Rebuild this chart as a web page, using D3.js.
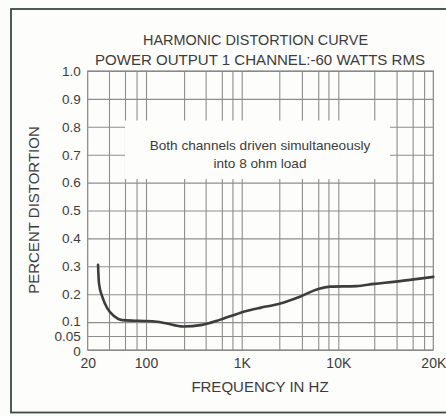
<!DOCTYPE html>
<html>
<head>
<meta charset="utf-8">
<script src="https://cdn.jsdelivr.net/npm/d3@7"></script>
<style>
  html, body { margin: 0; padding: 0; background: #fcfcfa; }
  svg { display: block; }
  text { font-family: "Liberation Sans", Arial, sans-serif; fill: #3c3c3c; }
</style>
</head>
<body>
<svg id="chart" width="446" height="416"></svg>
<script>
// Harmonic distortion (%) versus frequency, 60 W RMS per channel
const freqHz = [26.6, 27.3, 29.9, 34.4, 41.3, 52, 74, 95, 130, 155, 245, 385, 590, 960,
                1550, 2400, 4000, 6200, 8200, 11400, 13000, 15200, 17600, 20000];
const distortionPct = [0.305, 0.239, 0.191, 0.149, 0.122, 0.107, 0.105, 0.104, 0.101, 0.097,
                       0.084, 0.090, 0.108, 0.133, 0.151, 0.165, 0.191, 0.219, 0.227, 0.229,
                       0.237, 0.245, 0.254, 0.262];

// Axis labelling
const xTickValues = [20, 100, 1000, 10000, 20000];
const xTickLabels = ["20", "100", "1K", "10K", "20K"];
const yTickValues = [0, 0.05, 0.1, 0.2, 0.3, 0.4, 0.5, 0.6, 0.7, 0.8, 0.9, 1.0];
const yTickLabels = ["0", "0.05", "0.1", "0.2", "0.3", "0.4", "0.5", "0.6", "0.7", "0.8", "0.9", "1.0"];
// Printed log-paper rulings between the labelled frequencies
const xGridValues = [36, 56, 77, 100, 250, 420, 620, 800, 1000, 2450, 4200, 6200, 7900,
                     10000, 13000, 15300, 17200, 18700];

const titleLines = ["HARMONIC DISTORTION CURVE", "POWER OUTPUT 1 CHANNEL:-60 WATTS RMS"];
const noteLines = ["Both channels driven simultaneously", "into 8 ohm load"];

const svg = d3.select("#chart");

const plot = { left: 87.7, right: 433.3, top: 71, bottom: 350 };

// Outer frame
svg.append("rect")
  .attr("x", 11).attr("y", 9)
  .attr("width", 440).attr("height", 403.5)
  .attr("fill", "#fdfdfc")
  .attr("stroke", "#3e4944")
  .attr("stroke-width", 1.8);

// Piecewise log scale: the paper's 20 Hz and 20 kHz ends do not sit on full decades
const x = d3.scaleLog()
  .domain(xTickValues)
  .range([plot.left, 146, 241.7, 338.3, plot.right]);

const y = d3.scaleLinear()
  .domain([0, 1])
  .range([plot.bottom, plot.top]);

const gridColor = "#8e8e8e";

// Horizontal rulings
svg.append("g")
  .attr("transform", `translate(${plot.left},0)`)
  .call(d3.axisLeft(y).tickValues(yTickValues).tickSize(-(plot.right - plot.left)).tickFormat(""))
  .call(g => g.select(".domain").remove())
  .call(g => g.selectAll("line").attr("stroke", gridColor).attr("stroke-width", 1.1));

// Vertical rulings
svg.append("g")
  .attr("transform", `translate(0,${plot.bottom})`)
  .call(d3.axisBottom(x).tickValues(xGridValues).tickSize(-(plot.bottom - plot.top)).tickFormat(""))
  .call(g => g.select(".domain").remove())
  .call(g => g.selectAll("line").attr("stroke", gridColor).attr("stroke-width", 1.1));

// Plot border
svg.append("rect")
  .attr("x", plot.left).attr("y", plot.top)
  .attr("width", plot.right - plot.left).attr("height", plot.bottom - plot.top)
  .attr("fill", "none")
  .attr("stroke", "#858585")
  .attr("stroke-width", 1.2);

// Y tick labels; the three crowded bottom labels are spread a pixel apart
svg.append("g")
  .attr("transform", `translate(${plot.left},0)`)
  .call(d3.axisLeft(y).tickValues(yTickValues).tickSize(0).tickPadding(7)
        .tickFormat((d, i) => yTickLabels[i]))
  .call(g => g.select(".domain").remove())
  .call(g => g.selectAll("text")
      .style("font-family", "'Liberation Sans', Arial, sans-serif")
      .attr("font-size", 13.5).attr("fill", "#505050")
      .attr("dy", d => d === 0 ? "0.42em" : d === 0.1 ? "0.24em" : "0.32em"));

// X tick labels
svg.append("g")
  .attr("transform", `translate(0,${plot.bottom})`)
  .call(d3.axisBottom(x).tickValues(xTickValues).tickSize(0).tickPadding(8)
        .tickFormat((d, i) => xTickLabels[i]))
  .call(g => g.select(".domain").remove())
  .call(g => g.selectAll("text")
      .style("font-family", "'Liberation Sans', Arial, sans-serif")
      .attr("font-size", 14).attr("fill", "#505050"));

// Annotation panel over the grid
svg.append("rect")
  .attr("x", 125).attr("y", 120.5)
  .attr("width", 265).attr("height", 58.5)
  .attr("fill", "#fdfdfc");

svg.append("g").selectAll("text")
  .data(noteLines)
  .join("text")
  .attr("x", 260)
  .attr("y", (d, i) => 150 + i * 18)
  .attr("text-anchor", "middle")
  .attr("font-size", 13.6)
  .attr("fill", "#474747")
  .text(d => d);

// Distortion curve
const line = d3.line()
  .x((d, i) => x(freqHz[i]))
  .y(d => y(d))
  .curve(d3.curveMonotoneX);

svg.append("path")
  .datum(distortionPct)
  .attr("d", line)
  .attr("fill", "none")
  .attr("stroke", "#3d3d3d")
  .attr("stroke-width", 2.6)
  .attr("stroke-linecap", "round")
  .attr("stroke-linejoin", "round");

// Titles
svg.append("g").selectAll("text")
  .data(titleLines)
  .join("text")
  .attr("x", (d, i) => i === 0 ? 255.5 : 260)
  .attr("y", (d, i) => 45 + i * 20)
  .attr("text-anchor", "middle")
  .attr("font-size", 14.5)
  .attr("textLength", (d, i) => i === 0 ? 225 : 330)
  .attr("lengthAdjust", "spacingAndGlyphs")
  .attr("fill", "#404040")
  .text(d => d);

// Axis titles
svg.append("text")
  .attr("x", 260).attr("y", 392)
  .attr("text-anchor", "middle")
  .attr("font-size", 15)
  .attr("fill", "#404040")
  .text("FREQUENCY IN HZ");

svg.append("text")
  .attr("transform", "translate(39,210) rotate(-90)")
  .attr("text-anchor", "middle")
  .attr("font-size", 15)
  .attr("fill", "#404040")
  .text("PERCENT DISTORTION");
</script>
</body>
</html>
